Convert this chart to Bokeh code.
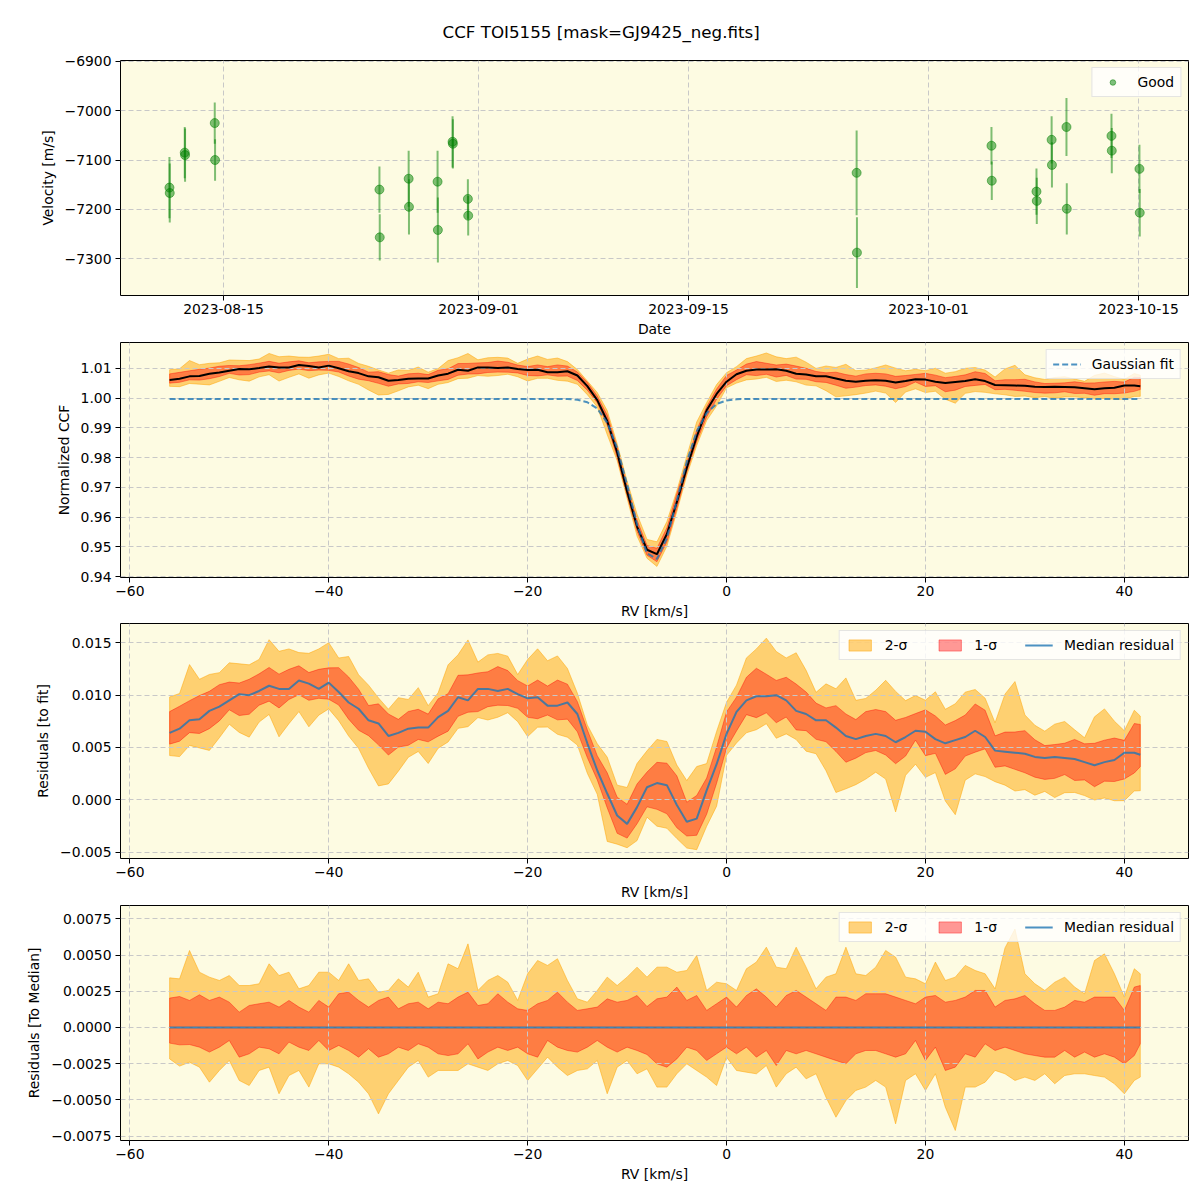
import numpy as np
import pandas as pd
from bokeh.plotting import figure
from bokeh.layouts import column
from bokeh.models import Range1d, FixedTicker, DatetimeTickFormatter, Legend, LegendItem, ColumnDataSource
from bokeh.embed import file_html
from bokeh.resources import INLINE

TITLE = "CCF TOI5155 [mask=GJ9425_neg.fits]"

# ---------------- panel 1: RV time series ----------------
OBS_DATE = ["2023-08-11 09:30", "2023-08-11 10:00", "2023-08-12 10:00", "2023-08-12 10:30",
            "2023-08-14 10:00", "2023-08-14 10:30", "2023-08-25 09:30", "2023-08-25 10:00",
            "2023-08-27 08:15", "2023-08-27 08:45", "2023-08-29 06:30", "2023-08-29 07:00",
            "2023-08-30 06:30", "2023-08-30 07:00", "2023-08-31 07:00", "2023-08-31 07:30",
            "2023-09-26 05:00", "2023-09-26 05:30", "2023-10-05 04:45", "2023-10-05 05:15",
            "2023-10-08 04:45", "2023-10-08 05:15", "2023-10-09 05:00", "2023-10-09 05:30",
            "2023-10-10 04:45", "2023-10-10 05:15", "2023-10-13 04:45", "2023-10-13 05:15",
            "2023-10-15 01:30", "2023-10-15 02:00"]
OBS_VEL = [-7156, -7167, -7085, -7090, -7025, -7100, -7160, -7257, -7138, -7195,
           -7144, -7242, -7063, -7067, -7179, -7213, -7126, -7288, -7071, -7142,
           -7164, -7183, -7059, -7110, -7033, -7199, -7051, -7081, -7118, -7207]
OBS_ERR = [62, 60, 52, 54, 42, 42, 47, 47, 57, 56,
           63, 66, 52, 50, 40, 40, 86, 72, 38, 39,
           47, 47, 48, 46, 59, 52, 45, 46, 49, 48]

# ---------------- CCF panels ----------------
RV_KMS = np.append(np.arange(-56.0, 42.0, 1.0), 41.6)

GAUSS_FIT = [0.9997] * 41 + [0.9994, 0.9986, 0.9965, 0.9917, 0.9832, 0.9709, 0.9575, 0.9478,
                             0.9459, 0.9529, 0.9655, 0.9786, 0.9888, 0.9950, 0.9980, 0.9992,
                             0.9996] + [0.9997] * 41

# median residual to the fit (units of 1e-3)
RESID_MED_E3 = [6.4, 6.8, 7.6, 7.7, 8.5, 8.9, 9.5, 10.1, 10.0, 10.4,
                10.9, 10.6, 10.6, 11.4, 11.1, 10.6, 11.2, 10.3, 9.3, 8.7,
                7.6, 7.3, 6.1, 6.4, 6.8, 6.9, 6.9, 7.9, 8.5, 9.8,
                9.5, 10.6, 10.6, 10.4, 10.6, 10.1, 9.7, 9.8, 9.0, 9.0,
                9.3, 8.2, 5.4, 2.8, 0.6, -1.5, -2.3, -0.7, 1.2, 1.6,
                1.4, -0.5, -2.1, -1.8, 0.9, 3.4, 6.3, 8.4, 9.5, 9.9,
                9.9, 10.0, 9.5, 8.5, 8.2, 7.6, 7.6, 6.9, 6.1, 5.8,
                6.1, 6.3, 6.1, 5.5, 6.0, 6.6, 6.5, 5.8, 5.4, 5.7,
                6.0, 6.6, 6.0, 4.7, 4.6, 4.5, 4.4, 4.1, 4.0, 4.1,
                4.0, 3.9, 3.6, 3.3, 3.6, 3.8, 4.5, 4.5, 4.3]

# percentile offsets from the median (units of 1e-3)
OFF_HI2_E3 = [3.43, 3.36, 5.32, 3.82, 3.48, 3.25, 3.59, 2.90, 2.90, 3.02,
              4.40, 3.59, 3.82, 2.67, 2.90, 3.82, 3.82, 3.25, 4.40, 3.25,
              3.36, 2.44, 2.56, 3.36, 2.79, 3.82, 2.10, 2.33, 4.40, 4.06,
              5.78, 2.56, 3.25, 3.59, 3.13, 1.87, 3.71, 4.63, 4.29, 4.75,
              3.25, 1.98, 1.75, 2.56, 3.48, 2.90, 3.48, 4.17, 3.48, 4.17,
              4.17, 3.82, 3.94, 4.98, 2.56, 3.13, 3.02, 2.56, 4.06, 4.52,
              5.55, 4.17, 4.06, 5.55, 4.17, 2.67, 3.48, 3.71, 5.55, 3.71,
              3.59, 4.17, 5.32, 4.86, 3.48, 3.36, 3.02, 4.52, 3.25, 3.48,
              4.29, 3.94, 3.71, 2.67, 5.50, 6.80, 3.71, 3.02, 2.56, 3.13,
              3.48, 2.79, 2.33, 4.63, 5.09, 3.71, 2.10, 4.06, 3.71]
OFF_HI1_E3 = [2.03, 2.14, 1.87, 2.26, 1.87, 2.10, 1.75, 1.06, 1.52, 1.64,
              1.75, 1.41, 1.87, 1.41, 1.06, 1.87, 1.41, 2.33, 2.44, 1.87,
              1.41, 1.87, 2.10, 1.29, 1.64, 1.75, 1.29, 1.75, 1.64, 2.10,
              2.44, 1.52, 1.64, 2.33, 1.75, 1.29, 1.18, 1.64, 1.87, 2.44,
              1.75, 1.18, 1.29, 1.41, 1.98, 1.75, 1.87, 2.21, 1.45, 1.98,
              2.10, 2.79, 1.87, 2.21, 1.18, 1.64, 2.10, 1.41, 2.21, 2.67,
              2.10, 1.41, 2.21, 2.56, 2.10, 1.64, 1.18, 2.10, 2.10, 1.87,
              2.33, 2.33, 2.33, 2.10, 1.87, 1.64, 2.10, 2.21, 1.75, 1.87,
              2.10, 2.56, 2.56, 1.41, 1.87, 1.98, 2.21, 1.64, 1.18, 1.18,
              1.41, 1.87, 1.75, 2.10, 2.10, 2.10, 1.18, 2.79, 2.90]
OFF_LO1_E3 = [-1.08, -1.20, -1.18, -1.36, -1.70, -1.36, -0.90, -2.05, -1.82, -1.36,
              -1.47, -1.82, -1.01, -1.36, -1.59, -0.90, -1.59, -1.24, -1.59, -2.05,
              -1.47, -2.05, -1.82, -1.36, -1.59, -1.13, -1.36, -1.82, -1.94, -1.82,
              -1.13, -2.17, -1.70, -1.36, -1.59, -1.36, -1.82, -2.05, -0.90, -1.36,
              -1.59, -1.70, -1.36, -0.90, -1.36, -1.70, -1.36, -1.59, -1.87, -2.51,
              -2.74, -2.17, -1.36, -1.59, -2.28, -1.82, -1.36, -1.82, -1.36, -2.05,
              -1.59, -2.63, -1.59, -1.82, -1.59, -1.82, -2.05, -2.28, -2.51, -1.82,
              -1.59, -1.59, -1.82, -2.05, -1.82, -0.90, -2.28, -1.36, -2.97, -2.74,
              -1.82, -2.05, -1.13, -1.59, -1.36, -1.59, -1.82, -1.94, -2.05, -2.05,
              -1.59, -2.05, -1.70, -2.05, -1.82, -2.05, -2.51, -1.94, -1.13]
OFF_LO2_E3 = [-2.17, -2.67, -2.40, -2.74, -3.78, -2.97, -2.28, -3.66, -4.01, -2.97,
              -2.74, -4.58, -3.32, -2.97, -4.12, -2.51, -2.51, -2.74, -3.20, -3.78,
              -4.58, -5.97, -4.58, -3.66, -2.74, -2.28, -3.43, -2.97, -2.97, -2.97,
              -2.51, -2.74, -2.97, -2.51, -2.28, -2.63, -3.66, -2.86, -2.05, -2.74,
              -3.32, -2.97, -2.86, -2.28, -4.58, -2.74, -2.28, -3.20, -2.86, -4.12,
              -4.12, -3.20, -2.51, -2.97, -3.43, -4.01, -2.05, -2.97, -3.09, -3.20,
              -2.63, -4.12, -3.20, -2.74, -3.55, -3.20, -4.82, -6.20, -5.05, -4.35,
              -4.12, -3.66, -4.12, -6.66, -3.66, -3.20, -4.35, -3.20, -5.51, -7.12,
              -4.12, -4.12, -3.78, -2.97, -3.20, -3.66, -3.43, -3.66, -3.20, -3.89,
              -3.32, -3.20, -3.20, -3.32, -3.43, -3.89, -4.58, -3.66, -3.43]

# ---------------- ticks ----------------
P1_XTICK_DATES = ["2023-08-15", "2023-09-01", "2023-09-15", "2023-10-01", "2023-10-15"]
P1_YTICKS = [-7300, -7200, -7100, -7000, -6900]
P1_YLABELS = ["\u22127300", "\u22127200", "\u22127100", "\u22127000", "\u22126900"]
RV_TICKS = [-60, -40, -20, 0, 20, 40]
RV_LABELS = ["\u221260", "\u221240", "\u221220", "0", "20", "40"]
P2_YTICKS = [0.94, 0.95, 0.96, 0.97, 0.98, 0.99, 1.0, 1.01]
P2_YLABELS = ["0.94", "0.95", "0.96", "0.97", "0.98", "0.99", "1.00", "1.01"]
P3_YTICKS = [-0.005, 0.0, 0.005, 0.01, 0.015]
P3_YLABELS = ["\u22120.005", "0.000", "0.005", "0.010", "0.015"]
P4_YTICKS = [-0.0075, -0.005, -0.0025, 0.0, 0.0025, 0.005, 0.0075]
P4_YLABELS = ["\u22120.0075", "\u22120.0050", "\u22120.0025", "0.0000", "0.0025", "0.0050", "0.0075"]

# ---------------- styling ----------------
FONT = "DejaVu Sans"
BG = "#fdfbe2"
GRID = "#c8c8c8"
FS = "13.9px"
LEFT = 120
RIGHT = 4
FRAME_W = 1068
W = LEFT + FRAME_W + RIGHT
FRAME_H = 235


def ms(s):
    return pd.Timestamp(s).value / 1e6


def make_fig(top, bottom, x_range, y_range, x_axis_type="linear"):
    p = figure(width=W, height=top + FRAME_H + bottom, x_range=x_range, y_range=y_range,
               x_axis_type=x_axis_type, output_backend="svg", toolbar_location=None,
               min_border_left=LEFT, min_border_right=RIGHT, min_border_top=top,
               min_border_bottom=bottom)
    p.background_fill_color = BG
    p.border_fill_color = "white"
    p.outline_line_color = "black"
    p.outline_line_width = 1
    p.outline_line_alpha = 1
    for ax in p.axis:
        ax.axis_line_color = None
        ax.major_tick_out = 5
        ax.major_tick_in = 0
        ax.minor_tick_line_color = None
        ax.major_tick_line_color = "black"
        ax.major_label_text_font = FONT
        ax.major_label_text_font_size = FS
        ax.major_label_text_color = "black"
        ax.axis_label_text_font = FONT
        ax.axis_label_text_font_size = FS
        ax.axis_label_text_font_style = "normal"
        ax.axis_label_text_color = "black"
    p.xaxis.major_label_standoff = 3
    p.xaxis.axis_label_standoff = 4
    p.yaxis.major_label_standoff = 4
    p.yaxis.axis_label_standoff = 6
    p.grid.grid_line_color = GRID
    p.grid.grid_line_dash = "5 3"
    p.grid.grid_line_width = 1
    return p


def style_legend(lg, horizontal=False):
    lg.location = "top_right"
    lg.margin = 7
    lg.padding = 6
    lg.spacing = 28 if horizontal else 2
    lg.orientation = "horizontal" if horizontal else "vertical"
    lg.glyph_width = 28
    lg.glyph_height = 14
    lg.label_standoff = 11
    lg.label_text_font = FONT
    lg.label_text_font_size = FS
    lg.label_text_color = "black"
    lg.label_height = 14
    lg.border_line_color = "#cccccc"
    lg.border_line_width = 1
    lg.background_fill_color = "white"
    lg.background_fill_alpha = 0.8


rv_range = lambda: Range1d(-60.94, 46.45)

# ---------------- panel 1 ----------------
P1_YMIN, P1_YMAX = -7375.0, -6898.0
p1 = make_fig(60, 44, Range1d(ms("2023-08-08 03:12"), ms("2023-10-18 08:00")),
              Range1d(P1_YMIN, P1_YMAX), x_axis_type="datetime")
p1.title.text = TITLE
p1.title.align = "left"
p1.title.offset = 322
p1.title.text_font = FONT
p1.title.text_font_size = "16.7px"
p1.title.text_font_style = "normal"
p1.title.text_color = "black"
p1.title.standoff = 38

dates = pd.to_datetime(OBS_DATE)
vel = np.array(OBS_VEL, dtype=float)
err = np.array(OBS_ERR, dtype=float)
src = ColumnDataSource(dict(d=dates, v=vel, lo=vel - err, hi=vel + err))
p1.segment(x0="d", y0="lo", x1="d", y1="hi", source=src, line_color="green", line_alpha=0.5, line_width=2)
p1.scatter("d", "v", source=src, size=9, marker="circle", fill_color="green", fill_alpha=0.5,
           line_color="green", line_alpha=0.5)
# legend proxy: one point placed outside the visible range so only its legend glyph shows
leg_dot = p1.scatter(x=[dates[0]], y=[P1_YMIN - 1000.0], size=6, marker="circle", fill_color="green",
                     fill_alpha=0.5, line_color="green", line_alpha=0.5)
p1.xaxis.ticker = FixedTicker(ticks=[ms(d) for d in P1_XTICK_DATES])
fmt = "%Y-%m-%d"
p1.xaxis.formatter = DatetimeTickFormatter(microseconds=fmt, milliseconds=fmt, seconds=fmt,
                                           minsec=fmt, minutes=fmt, hourmin=fmt, hours=fmt,
                                           days=fmt, months=fmt, years=fmt)
p1.yaxis.ticker = FixedTicker(ticks=P1_YTICKS)
p1.yaxis.major_label_overrides = dict(zip(P1_YTICKS, P1_YLABELS))
p1.xaxis.axis_label = "Date"
p1.yaxis.axis_label = "Velocity [m/s]"
lg1 = Legend(items=[LegendItem(label="Good", renderers=[leg_dot])])
style_legend(lg1)
p1.add_layout(lg1)

# ---------------- derived CCF arrays ----------------
fit = np.array(GAUSS_FIT)
resid = np.array(RESID_MED_E3) * 1e-3
hi2 = np.array(OFF_HI2_E3) * 1e-3
hi1 = np.array(OFF_HI1_E3) * 1e-3
lo1 = np.array(OFF_LO1_E3) * 1e-3
lo2 = np.array(OFF_LO2_E3) * 1e-3
ccf = fit + resid
xs_band = np.concatenate([RV_KMS, RV_KMS[::-1]])


def band(p, center, lo, hi, color, alpha):
    ys = np.concatenate([center + hi, (center + lo)[::-1]])
    return p.patch(xs_band, ys, fill_color=color, fill_alpha=alpha, line_color=color,
                   line_alpha=alpha, line_width=1, level="image")


def rv_axes(p, yticks, ylabels, ylabel):
    p.xaxis.ticker = FixedTicker(ticks=RV_TICKS)
    p.xaxis.major_label_overrides = dict(zip(RV_TICKS, RV_LABELS))
    p.yaxis.ticker = FixedTicker(ticks=yticks)
    p.yaxis.major_label_overrides = dict(zip(yticks, ylabels))
    p.xaxis.axis_label = "RV [km/s]"
    p.yaxis.axis_label = ylabel


# ---------------- panel 2 ----------------
p2 = make_fig(3, 44, rv_range(), Range1d(0.93967, 1.01868))
band(p2, ccf, lo2, hi2, "orange", 0.5)
band(p2, ccf, lo1, hi1, "red", 0.4)
p2.line(RV_KMS, ccf, line_color="black", line_width=2)
fit_r = p2.line(RV_KMS, fit, line_color="#1f77b4", line_alpha=0.8, line_width=2, line_dash="6 3")
rv_axes(p2, P2_YTICKS, P2_YLABELS, "Normalized CCF")
lg2 = Legend(items=[LegendItem(label="Gaussian fit", renderers=[fit_r])])
style_legend(lg2)
p2.add_layout(lg2)

# ---------------- panel 3 ----------------
p3 = make_fig(2, 44, rv_range(), Range1d(-0.00561, 0.01685))
b2 = band(p3, resid, lo2, hi2, "orange", 0.5)
b1 = band(p3, resid, lo1, hi1, "red", 0.4)
m3 = p3.line(RV_KMS, resid, line_color="#1f77b4", line_alpha=0.8, line_width=2)
rv_axes(p3, P3_YTICKS, P3_YLABELS, "Residuals [to fit]")
lg3 = Legend(items=[LegendItem(label="2-\u03c3", renderers=[b2]),
                    LegendItem(label="1-\u03c3", renderers=[b1]),
                    LegendItem(label="Median residual", renderers=[m3])])
style_legend(lg3, horizontal=True)
p3.add_layout(lg3)

# ---------------- panel 4 ----------------
zero = np.zeros_like(resid)
p4 = make_fig(3, 45, rv_range(), Range1d(-0.00781, 0.00843))
c2 = band(p4, zero, lo2, hi2, "orange", 0.5)
c1 = band(p4, zero, lo1, hi1, "red", 0.4)
m4 = p4.line(RV_KMS, zero, line_color="#1f77b4", line_alpha=0.8, line_width=2)
rv_axes(p4, P4_YTICKS, P4_YLABELS, "Residuals [To Median]")
lg4 = Legend(items=[LegendItem(label="2-\u03c3", renderers=[c2]),
                    LegendItem(label="1-\u03c3", renderers=[c1]),
                    LegendItem(label="Median residual", renderers=[m4])])
style_legend(lg4, horizontal=True)
p4.add_layout(lg4)

layout = column(p1, p2, p3, p4, spacing=0)
open("out.html", "w").write(file_html(layout, INLINE))
